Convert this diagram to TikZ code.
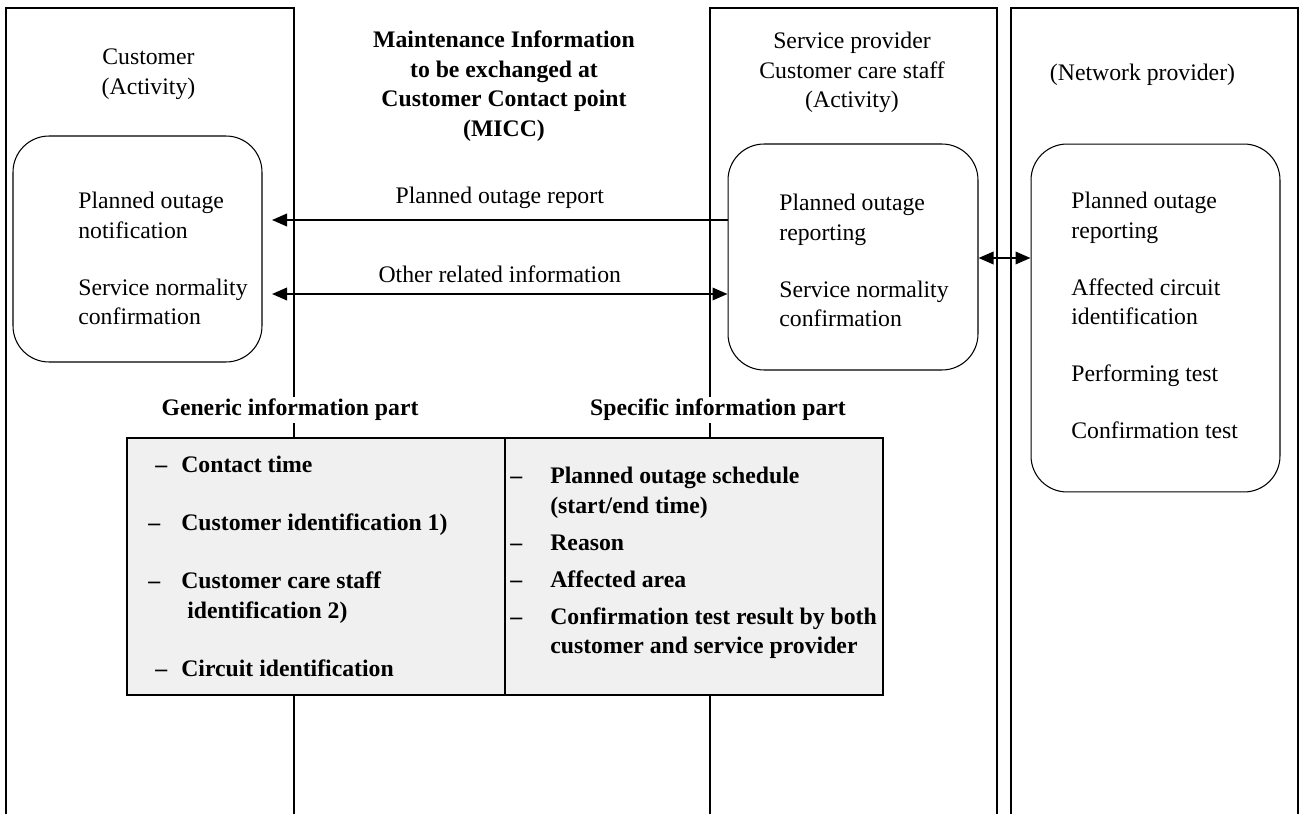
\documentclass[tikz,border=0pt]{standalone}
\usepackage{fontspec}
\setmainfont{Liberation Serif}
\usetikzlibrary{arrows.meta}

\newcommand{\gendash}[1][0cm]{\makebox[0.66cm][l]{\hspace*{#1}--}}
\newcommand{\specdash}{\makebox[0.8cm][l]{--}}

\begin{document}
\begin{tikzpicture}[
      x=0.02cm, y=-0.02cm, % one unit = one pixel of the reference
      >={Triangle[length=0.3cm, width=0.25cm]},
      every node/.style={font=\fontsize{13.5}{16.8}\selectfont},
      lane/.style={line width=0.6pt},
      actbox/.style={
        rectangle,
        draw,
        rounded corners=0.72cm,
        line width=0.6pt,
        inner sep=0pt
      },
      infobox/.style={
        rectangle,
        draw,
        fill=black!6,
        line width=0.8pt,
        minimum width=7.56cm,
        minimum height=5.14cm
      },
      head/.style={align=center},
      title/.style={align=center, font=\fontsize{13.5}{16.8}\selectfont\bfseries},
      partlabel/.style={fill=white, inner sep=1pt, font=\fontsize{13.5}{16.8}\selectfont\bfseries},
      items/.style={align=left, anchor=north west, inner sep=0pt},
      bolditems/.style={items, font=\fontsize{13.5}{16.8}\selectfont\bfseries},
      msg/.style={line width=1.1pt}
    ]
    \useasboundingbox (0,0) rectangle (1301,814);

    % swim lanes, open at the bottom
    \draw[lane] (6,814) |- (294,8) -- (294,814);
    \draw[lane] (710,814) |- (997,8) -- (997,814);
    \draw[lane] (1011,814) |- (1298,8) -- (1298,814);

    % headers
    \node[head] (cust) at (148.5,74) {Customer\\(Activity)};
    \node[title] (micc) at (504,86) {Maintenance Information\\to be exchanged at\\Customer Contact point\\(MICC)};
    \node[head] (svc) at (852,72.5) {Service provider\\Customer care staff\\(Activity)};
    \node[head] (net) at (1142.5,74.5) {(Network provider)};

    % activity boxes
    \node[actbox, minimum width=4.98cm, minimum height=4.52cm] (custbox) at (137.5,249) {};
    \node[actbox, minimum width=5cm, minimum height=4.52cm] (svcbox) at (853,257) {};
    \node[actbox, minimum width=4.98cm, minimum height=6.96cm] (netbox) at (1155.5,318) {};

    \node[items] (custtext) at (78,192) {Planned outage\\notification\\[0.55cm]Service normality\\confirmation};
    \node[items] (svctext) at (779,194) {Planned outage\\reporting\\[0.55cm]Service normality\\confirmation};
    \node[items] (nettext) at (1071,192) {Planned outage\\reporting\\[0.55cm]Affected circuit\\identification\\[0.55cm]Performing test\\[0.55cm]Confirmation test};

    % messages
    \coordinate (rpend) at (272,220);
    \coordinate (orend) at (272,294);
    \coordinate (link) at (1004,258);
    \draw[msg, ->] (svcbox.west |- rpend) -- node[above=0.1cm] {Planned outage report} (rpend);
    \draw[msg, <->] (orend) -- node[above=0.08cm] {Other related information} (svcbox.west |- orend);
    \draw[msg, <->] (svcbox.east |- link) -- (netbox.west |- link);

    % information parts
    \node[infobox] (genbox) at (316,566.5) {};
    \node[infobox] (specbox) at (694,566.5) {};
    \node[partlabel] (genlabel) at (290,410) {Generic information part};
    \node[partlabel] (speclabel) at (718,410) {Specific information part};

    \node[bolditems] (genitems) at (148,456) {\gendash[0.14cm]Contact time\\[0.57cm]\gendash Customer identification 1)\\[0.57cm]\gendash Customer care staff\\\hspace*{0.78cm}identification 2)\\[0.57cm]\gendash[0.14cm]Circuit identification};
    \node[bolditems] (specitems) at (510,467) {\specdash Planned outage schedule\\\hspace*{0.8cm}(start/end time)\\[0.15cm]\specdash Reason\\[0.15cm]\specdash Affected area\\[0.15cm]\specdash Confirmation test result by both\\\hspace*{0.8cm}customer and service provider};
  \end{tikzpicture}
\end{document}
